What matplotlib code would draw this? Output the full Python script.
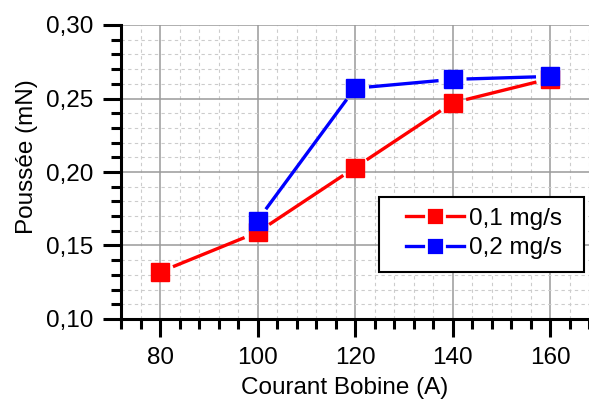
import matplotlib
matplotlib.use('Agg')
import matplotlib.pyplot as plt
import numpy as np
from matplotlib.ticker import MultipleLocator, FuncFormatter
from matplotlib.lines import Line2D
from matplotlib.patches import Rectangle

x_red = [80, 100, 120, 140, 160]
y_red = [0.132, 0.159, 0.203, 0.247, 0.2635]
x_blue = [100, 120, 140, 160]
y_blue = [0.167, 0.257, 0.263, 0.265]
labels = ['0,1 mg/s', '0,2 mg/s']
colors = ['#ff0000', '#0000ff']
xlabel = 'Courant Bobine (A)'
ylabel = 'Poussée (mN)'

FS = 17.5
plt.rcParams['font.family'] = ['Liberation Sans', 'DejaVu Sans']
fig = plt.figure(figsize=(5.89, 3.99), dpi=100)
ax = fig.add_axes([121/589, 80/399, 468/589, 294/399])
ax.set_xlim(72, 168)
ax.set_ylim(0.10, 0.30)

ax.xaxis.set_major_locator(MultipleLocator(20))
ax.xaxis.set_minor_locator(MultipleLocator(4))
ax.yaxis.set_major_locator(MultipleLocator(0.05))
ax.yaxis.set_minor_locator(MultipleLocator(0.01))
ax.yaxis.set_major_formatter(FuncFormatter(lambda v, p: f'{v:.2f}'.replace('.', ',')))
ax.xaxis.set_major_formatter(FuncFormatter(lambda v, p: f'{v:.0f}'))

for s in ['top', 'right']:
    ax.spines[s].set_visible(False)
for s in ['left', 'bottom']:
    ax.spines[s].set_linewidth(2.2)
    ax.spines[s].set_color('black')
    ax.spines[s].set_zorder(5)

ax.tick_params(which='major', direction='out', length=13, width=2.2, labelsize=FS, pad=7, colors='black')
ax.tick_params(which='minor', direction='out', length=7, width=2.2)
ax.tick_params(top=False, right=False)

ax.grid(which='major', color='#9a9a9a', lw=1.1, ls='-', zorder=0)
ax.grid(which='minor', color='#cccccc', lw=0.8, ls=(0, (3, 3)), zorder=0)
ax.set_axisbelow(True)

ax.set_xlabel(xlabel, fontsize=FS, labelpad=6)
ax.set_ylabel(ylabel, fontsize=FS, labelpad=6)
ax.xaxis.label.set_x(0.4776)
ax.yaxis.label.set_y(0.553)

fig.canvas.draw()

def gapped(xs, ys, color, gap_px=14):
    pts = ax.transData.transform(np.column_stack([xs, ys]))
    inv = ax.transData.inverted()
    for p, q in zip(pts[:-1], pts[1:]):
        d = q - p
        L = np.hypot(*d)
        u = d / L
        a = p + u * gap_px
        b = q - u * gap_px
        seg = inv.transform(np.vstack([a, b]))
        ax.plot(seg[:, 0], seg[:, 1], color=color, lw=2.4, solid_capstyle='butt', zorder=3)

gapped(x_red, y_red, colors[0])
ax.plot(x_red, y_red, ls='none', marker='s', ms=13.5, color=colors[0], mec=colors[0], zorder=4)
gapped(x_blue, y_blue, colors[1])
ax.plot(x_blue, y_blue, ls='none', marker='s', ms=13.5, color=colors[1], mec=colors[1], zorder=4)

# legend frame
frame = Rectangle((0.5513, 0.160), 0.9893 - 0.5513, 0.415 - 0.160, transform=ax.transAxes,
                  facecolor='white', edgecolor='black', lw=1.5, zorder=6)
ax.add_patch(frame)

handles = [Line2D([], [], color=c, lw=2.4, marker='s', ms=13.5, mfc=c, mec='white', mew=2.0)
           for c in colors]
leg = ax.legend(handles, labels, loc='center', bbox_to_anchor=(0.7756, 0.291),
                borderaxespad=0, borderpad=0, fontsize=FS, frameon=False,
                handlelength=2.4, handletextpad=0.2, labelspacing=0.3)
leg.set_zorder(7)

fig.savefig('out.png', dpi=100)
